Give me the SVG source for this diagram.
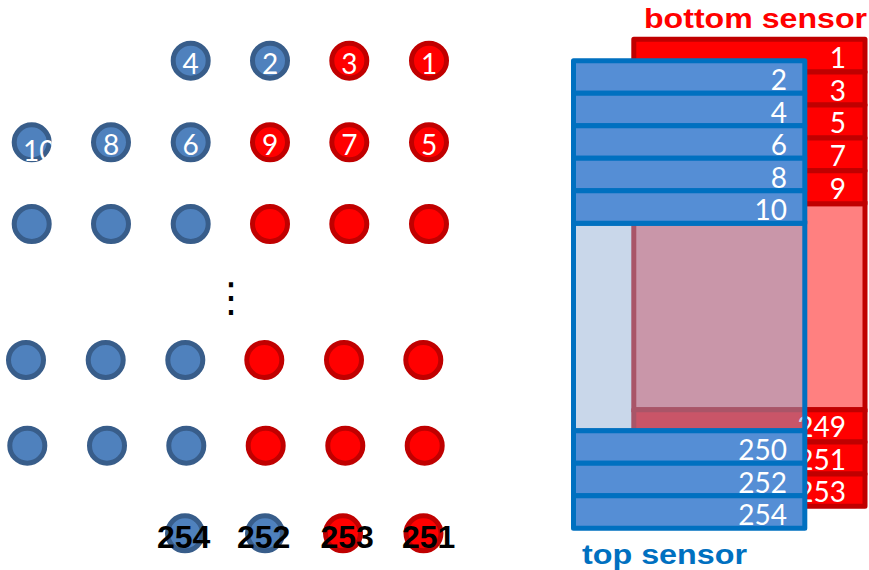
<svg xmlns="http://www.w3.org/2000/svg" width="869" height="570" viewBox="0 0 869 570">
<style>
.bc{fill:#4F81BD;stroke:#385D8A;stroke-width:5}
.rc{fill:#FF0000;stroke:#C00000;stroke-width:5}
.n{fill:#FFFFFF;font-family:Lato,"Open Sans",sans-serif;font-size:28px;text-anchor:middle}
.s{fill:#FFFFFF;font-family:Lato,"Open Sans",sans-serif;font-size:28px;text-anchor:end}
.l{fill:#000000;font-family:"Liberation Sans",Arial,sans-serif;font-size:32px;font-weight:bold}
.rs{fill:#FF0000;stroke:#C00000;stroke-width:5;stroke-linejoin:round}
.bs{fill:#558ED5;stroke:#0070C0;stroke-width:5;stroke-linejoin:round}
.t{font-family:"Liberation Sans",Arial,sans-serif;font-size:28px;font-weight:bold}
</style>
<defs>
<clipPath id="clip10"><rect x="11.7" y="122.3" width="40" height="40"/></clipPath>
</defs>
<g id="connectors"/>
<!-- circles row 1 -->
<g id="c4"><circle class="bc" cx="190.7" cy="60.7" r="17.5"/><text class="n" x="190.7" y="73.5">4</text></g>
<g id="c2"><circle class="bc" cx="270" cy="60.7" r="17.5"/><text class="n" x="270" y="73.5">2</text></g>
<g id="c3"><circle class="rc" cx="349.3" cy="60.7" r="17.5"/><text class="n" x="349.3" y="73.5">3</text></g>
<g id="c1"><circle class="rc" cx="429" cy="60.7" r="17.5"/><text class="n" x="429" y="73.5">1</text></g>
<!-- row 2 -->
<g id="c10"><circle class="bc" cx="31.7" cy="142.3" r="17.5"/><text class="n" x="23" y="161" style="text-anchor:start" clip-path="url(#clip10)">10</text></g>
<g id="c8"><circle class="bc" cx="111" cy="142.3" r="17.5"/><text class="n" x="111" y="155">8</text></g>
<g id="c6"><circle class="bc" cx="190.7" cy="142.3" r="17.5"/><text class="n" x="190.7" y="155">6</text></g>
<g id="c9"><circle class="rc" cx="270" cy="142.3" r="17.5"/><text class="n" x="270" y="155">9</text></g>
<g id="c7"><circle class="rc" cx="349.3" cy="142.3" r="17.5"/><text class="n" x="349.3" y="155">7</text></g>
<g id="c5"><circle class="rc" cx="429" cy="142.3" r="17.5"/><text class="n" x="429" y="155">5</text></g>
<!-- row 3 -->
<g id="r3b1"><circle class="bc" cx="31.7" cy="224" r="17.5"/></g>
<g id="r3b2"><circle class="bc" cx="111" cy="224" r="17.5"/></g>
<g id="r3b3"><circle class="bc" cx="190.7" cy="224" r="17.5"/></g>
<g id="r3r1"><circle class="rc" cx="270" cy="224" r="17.5"/></g>
<g id="r3r2"><circle class="rc" cx="349.3" cy="224" r="17.5"/></g>
<g id="r3r3"><circle class="rc" cx="429" cy="224" r="17.5"/></g>
<!-- ellipsis -->
<g id="ellipsis"><text x="231" y="311" style="font-family:'DejaVu Sans',sans-serif;font-size:40px;text-anchor:middle;fill:#000">⋮</text></g>
<!-- row 4 -->
<g id="r4b1"><circle class="bc" cx="26" cy="360" r="17.5"/></g>
<g id="r4b2"><circle class="bc" cx="105.7" cy="360" r="17.5"/></g>
<g id="r4b3"><circle class="bc" cx="185.3" cy="360" r="17.5"/></g>
<g id="r4r1"><circle class="rc" cx="264.3" cy="360" r="17.5"/></g>
<g id="r4r2"><circle class="rc" cx="344" cy="360" r="17.5"/></g>
<g id="r4r3"><circle class="rc" cx="423.3" cy="360" r="17.5"/></g>
<!-- row 5 -->
<g id="r5b1"><circle class="bc" cx="27.3" cy="445.7" r="17.5"/></g>
<g id="r5b2"><circle class="bc" cx="107" cy="445.7" r="17.5"/></g>
<g id="r5b3"><circle class="bc" cx="186.3" cy="445.7" r="17.5"/></g>
<g id="r5r1"><circle class="rc" cx="265.7" cy="445.7" r="17.5"/></g>
<g id="r5r2"><circle class="rc" cx="345.3" cy="445.7" r="17.5"/></g>
<g id="r5r3"><circle class="rc" cx="424.7" cy="445.7" r="17.5"/></g>
<!-- row 6 -->
<g id="c254"><circle class="bc" cx="185" cy="533.3" r="17.5"/><text class="l" x="157" y="548.3">254</text></g>
<g id="c252"><circle class="bc" cx="265" cy="533.3" r="17.5"/><text class="l" x="237" y="548.3">252</text></g>
<g id="c253"><circle class="rc" cx="343" cy="533.3" r="17.5"/><text class="l" x="320.5" y="548.3">253</text></g>
<g id="c251"><circle class="rc" cx="423.5" cy="533.3" r="17.5"/><text class="l" x="402" y="548.3">251</text></g>

<!-- bottom sensor -->
<g id="bottom-sensor">
<rect x="633.8" y="203.7" width="231.2" height="206" fill="#FF8080" stroke="#C00000" stroke-width="5"/>
<g id="rs1"><rect class="rs" x="633.8" y="39.2" width="231.2" height="32.9"/><text class="s" x="846" y="67.8">1</text></g>
<g id="rs3"><rect class="rs" x="633.8" y="72.1" width="231.2" height="32.9"/><text class="s" x="846" y="100.5">3</text></g>
<g id="rs5"><rect class="rs" x="633.8" y="105" width="231.2" height="32.9"/><text class="s" x="846" y="133.4">5</text></g>
<g id="rs7"><rect class="rs" x="633.8" y="137.9" width="231.2" height="32.9"/><text class="s" x="846" y="166.3">7</text></g>
<g id="rs9"><rect class="rs" x="633.8" y="170.8" width="231.2" height="32.9"/><text class="s" x="846" y="199.2">9</text></g>
<g id="rs249"><rect class="rs" x="633.8" y="409.7" width="231.2" height="32.2"/><text class="s" x="846" y="437.4">249</text></g>
<g id="rs251"><rect class="rs" x="633.8" y="441.9" width="231.2" height="32.2"/><text class="s" x="846" y="469.6">251</text></g>
<g id="rs253"><rect class="rs" x="633.8" y="474.1" width="231.2" height="32.2"/><text class="s" x="846" y="501.8">253</text></g>
<text class="t" x="644" y="28.3" fill="#FF0000" textLength="223" lengthAdjust="spacingAndGlyphs">bottom sensor</text>
</g>

<!-- top sensor -->
<g id="top-sensor">
<rect x="573.5" y="223.3" width="231.3" height="207.5" fill="rgb(145,173,212)" fill-opacity="0.49" stroke="#0070C0" stroke-width="5"/>
<g id="ts2"><rect class="bs" x="573.5" y="60.8" width="231.3" height="32.5"/><text class="s" x="787" y="90.3">2</text></g>
<g id="ts4"><rect class="bs" x="573.5" y="93.3" width="231.3" height="32.5"/><text class="s" x="787" y="122.8">4</text></g>
<g id="ts6"><rect class="bs" x="573.5" y="125.8" width="231.3" height="32.5"/><text class="s" x="787" y="155.3">6</text></g>
<g id="ts8"><rect class="bs" x="573.5" y="158.3" width="231.3" height="32.5"/><text class="s" x="787" y="187.8">8</text></g>
<g id="ts10"><rect class="bs" x="573.5" y="190.8" width="231.3" height="32.5"/><text class="s" x="787" y="220.3">10</text></g>
<g id="ts250"><rect class="bs" x="573.5" y="430.8" width="231.3" height="32.5"/><text class="s" x="787" y="460.3">250</text></g>
<g id="ts252"><rect class="bs" x="573.5" y="463.3" width="231.3" height="32.5"/><text class="s" x="787" y="492.8">252</text></g>
<g id="ts254"><rect class="bs" x="573.5" y="495.8" width="231.3" height="32.5"/><text class="s" x="787" y="525.3">254</text></g>
<text class="t" x="582" y="564" fill="#0070C0" style="font-size:27px" textLength="165" lengthAdjust="spacingAndGlyphs">top sensor</text>
</g>
</svg>
